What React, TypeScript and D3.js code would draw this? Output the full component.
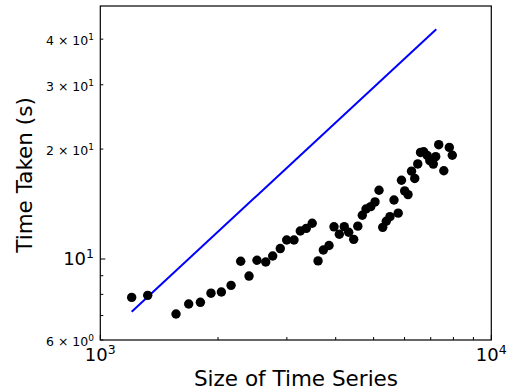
import React from "react";
import * as d3 from "d3";

const sizes = [1203, 1322, 1562, 1683, 1803, 1919, 2040, 2160, 2286, 2401, 2516, 2649, 2760, 2886, 2997, 3129, 3247, 3364, 3483, 3605, 3719, 3846, 3960, 4086, 4207, 4318, 4447, 4556, 4678, 4781, 4916, 5042, 5162, 5276, 5388, 5506, 5638, 5779, 5892, 6004, 6124, 6252, 6371, 6485, 6592, 6717, 6857, 6962, 7107, 7208, 7337, 7560, 7809, 7948];
const times = [7.85, 7.95, 7.07, 7.53, 7.61, 8.06, 8.12, 8.47, 9.86, 8.98, 9.92, 9.81, 10.19, 10.68, 11.27, 11.27, 11.93, 12.13, 12.53, 9.88, 10.58, 10.89, 12.25, 11.69, 12.26, 11.84, 11.32, 12.3, 13.18, 13.71, 13.91, 14.33, 15.43, 12.21, 12.69, 13.06, 14.51, 13.35, 16.43, 15.36, 15.01, 17.4, 16.62, 18.21, 19.58, 19.67, 19.2, 18.58, 18.19, 19.07, 20.56, 17.45, 20.21, 19.24];
const lineX = [1203, 7232];
const lineY = [7.17, 42.6];

const xMajor = [1000, 10000];
const xMajorExp = ["3", "4"];
const xMinor = [2000, 3000, 4000, 5000, 6000, 7000, 8000, 9000];
const yMajor = [10];
const yMinorLabeled = [6, 20, 30, 40];
const yMinorLabelMant = ["6", "2", "3", "4"];
const yMinorLabelExp = ["0", "1", "1", "1"];
const yMinorUnlabeled = [7, 8, 9];

const FONT = "DejaVu Sans";

export default function App() {
  const left = 100.3, right = 491.3, top = 6, bottom = 340;
  const x = d3.scaleLog().domain([1000, 10000]).range([left, right]);
  const y = d3.scaleLog().domain([6, 49.3]).range([bottom, top]);
  const line = d3.line<number>().x((d, i) => x(lineX[i])).y((d, i) => y(lineY[i]));

  return (
    <svg width={512} height={392} style={{ position: "absolute", left: 0, top: 0, background: "#fff" }} fontFamily={FONT}>
      <rect x={0} y={0} width={512} height={392} fill="#fff" />
      {/* line */}
      <path d={line(lineX) || ""} fill="none" stroke="#0000ff" strokeWidth={2} />
      {/* points */}
      {sizes.map((s, i) => (
        <circle key={i} cx={x(s)} cy={y(times[i])} r={4.7} fill="#000" />
      ))}
      {/* frame */}
      <rect x={left} y={top} width={right - left} height={bottom - top} fill="none" stroke="#000" strokeWidth={1.2} />
      {/* x ticks */}
      {xMinor.map((v) => (
        <line key={"xm" + v} x1={x(v)} x2={x(v)} y1={bottom} y2={bottom - 3} stroke="#000" strokeWidth={1} />
      ))}
      {xMajor.map((v, i) => (
        <g key={"xM" + v}>
          <line x1={x(v)} x2={x(v)} y1={bottom} y2={bottom - 5} stroke="#000" strokeWidth={1} />
          <text x={x(v)} y={360.5} fontSize={18} textAnchor="middle" fill="#000">
            10<tspan fontSize={12.5} dy={-7}>{xMajorExp[i]}</tspan>
          </text>
        </g>
      ))}
      {/* y ticks */}
      {yMinorUnlabeled.map((v) => (
        <line key={"ym" + v} x1={left} x2={left + 3} y1={y(v)} y2={y(v)} stroke="#000" strokeWidth={1} />
      ))}
      {yMinorLabeled.map((v, i) => (
        <g key={"yl" + v}>
          <line x1={left} x2={left + 3} y1={y(v)} y2={y(v)} stroke="#000" strokeWidth={1} />
          <text x={94} y={y(v) + 6} fontSize={12.5} textAnchor="end" fill="#000">
            {yMinorLabelMant[i]} × 10<tspan fontSize={9} dy={-5}>{yMinorLabelExp[i]}</tspan>
          </text>
        </g>
      ))}
      {yMajor.map((v) => (
        <g key={"yM" + v}>
          <line x1={left} x2={left + 5} y1={y(v)} y2={y(v)} stroke="#000" strokeWidth={1} />
          <text x={94} y={y(v) + 6.5} fontSize={18} textAnchor="end" fill="#000">
            10<tspan fontSize={12.5} dy={-7}>1</tspan>
          </text>
        </g>
      ))}
      {/* axis labels */}
      <text x={296} y={386} fontSize={21.5} textAnchor="middle" fill="#000">Size of Time Series</text>
      <text transform="translate(32,175) rotate(-90)" fontSize={21.5} textAnchor="middle" fill="#000">Time Taken (s)</text>
    </svg>
  );
}
